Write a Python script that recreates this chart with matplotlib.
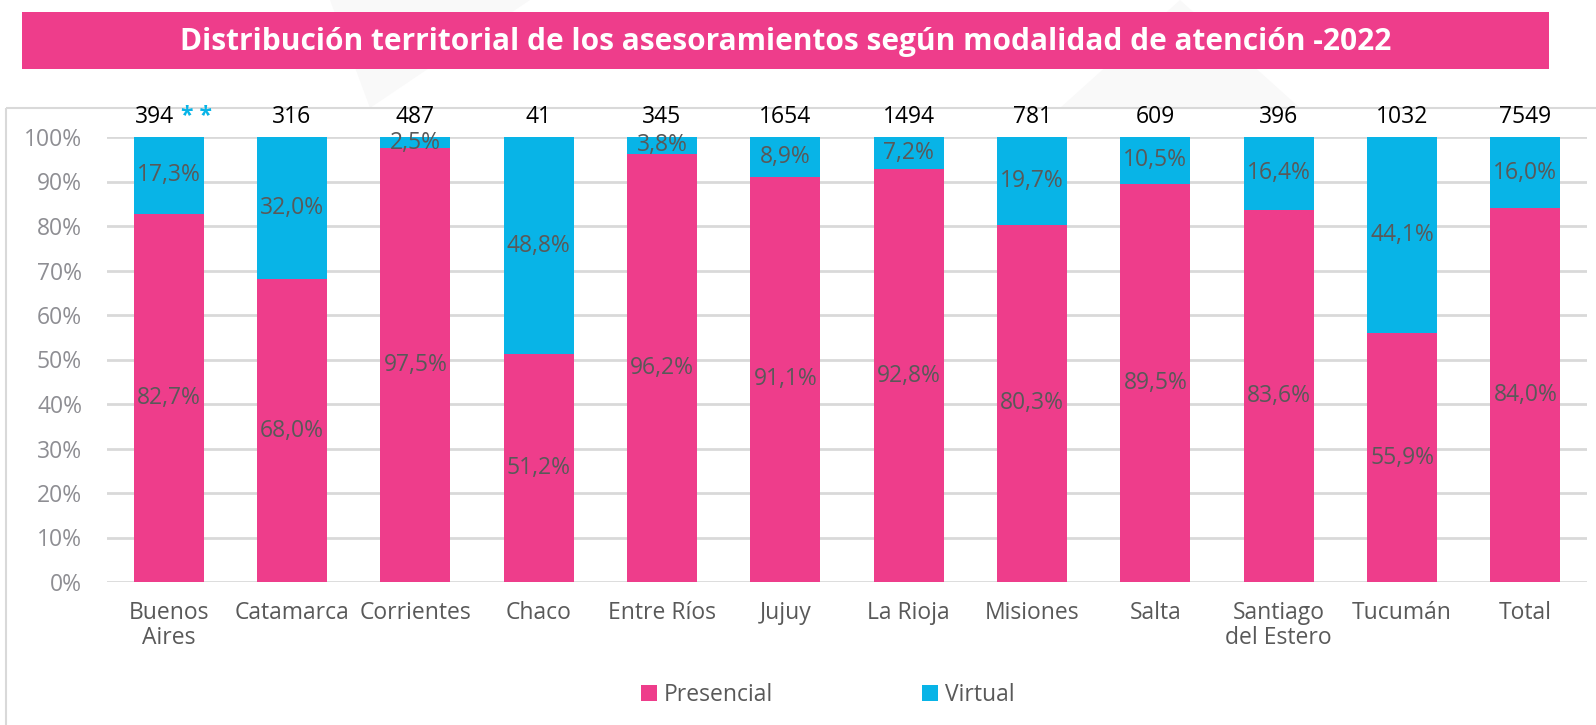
import matplotlib
matplotlib.use("Agg")
import matplotlib.pyplot as plt
from matplotlib.patches import Rectangle, Polygon
import numpy as np

categories = ["Buenos\nAires", "Catamarca", "Corrientes", "Chaco", "Entre Ríos", "Jujuy",
              "La Rioja", "Misiones", "Salta", "Santiago\ndel Estero", "Tucumán", "Total"]
presencial = [82.7, 68.0, 97.5, 51.2, 96.2, 91.1, 92.8, 80.3, 89.5, 83.6, 55.9, 84.0]
virtual = [17.3, 32.0, 2.5, 48.8, 3.8, 8.9, 7.2, 19.7, 10.5, 16.4, 44.1, 16.0]
totals = ["394", "316", "487", "41", "345", "1654", "1494", "781", "609", "396", "1032", "7549"]
yticks = [0, 10, 20, 30, 40, 50, 60, 70, 80, 90, 100]
title = "Distribución territorial de los asesoramientos según modalidad de atención -2022"

PINK = "#EE3D8B"
CYAN = "#08B4E7"
LABEL = "#595959"
FONT = ["Open Sans", "DejaVu Sans"]
FS = 16.5

W, H = 1596, 725
fig = plt.figure(figsize=(W / 100, H / 100), dpi=100)

def fx(px):
    return px / W

def fy(py):
    return 1 - py / H

# faint background watermark
bg = fig.add_axes([0, 0, 1, 1], zorder=-5)
bg.set_xlim(0, W); bg.set_ylim(H, 0); bg.axis("off")
bg.add_patch(Polygon([[330, 0], [530, 0], [370, 108]], closed=True, color="#F9F9F9", lw=0))
bg.add_patch(Polygon([[1060, 108], [1180, 0], [1300, 108]], closed=True, color="#F9F9F9", lw=0))
# chart border
bg.add_patch(Rectangle((6, 108), 1600, 700, fill=False, ec="#D9D9D9", lw=1.5))
# title banner
bg.add_patch(Rectangle((22, 12), 1527, 57, color=PINK, lw=0))
bg.text(786, 42, title, ha="center", va="center", color="white", fontsize=21.5,
        fontweight="bold", family=FONT)

# main axes: x from 107 to 1587 px, y from 137 (100%) to 582 (0%)
ax = fig.add_axes([fx(107), fy(582), fx(1587) - fx(107), (582 - 137) / H])
x = np.arange(len(categories))
ax.bar(x, presencial, width=0.57, color=PINK, zorder=3)
ax.bar(x, virtual, width=0.57, bottom=presencial, color=CYAN, zorder=3)
ax.set_xlim(-0.5, len(categories) - 0.5)
ax.set_ylim(0, 100)
ax.set_yticks(yticks)
ax.set_yticklabels([f"{v}%" for v in yticks], color="#8E8E93", fontsize=FS, family=FONT)
ax.yaxis.grid(True, color="#D9D9D9", lw=2, zorder=0)
ax.set_xticks(x)
ax.set_xticklabels(categories, color=LABEL, fontsize=FS, family=FONT, linespacing=1.05)
ax.tick_params(axis="both", length=0)
ax.tick_params(axis="x", pad=14)
ax.tick_params(axis="y", pad=18)
for s in ax.spines.values():
    s.set_visible(False)

for i in range(len(categories)):
    p, v = presencial[i], virtual[i]
    ax.text(i, p / 2, f"{p:.1f}%".replace(".", ","), ha="center", va="center",
            color=LABEL, fontsize=FS, family=FONT, zorder=4)
    ax.text(i, p + v / 2, f"{v:.1f}%".replace(".", ","), ha="center", va="center",
            color=LABEL, fontsize=FS, family=FONT, zorder=4)
    dx = -10.5 if i == 0 else 0
    t = ax.annotate(totals[i], xy=(i, 103.2), xytext=(dx, 0), textcoords="offset points",
                    ha="center", va="baseline", color="black", fontsize=FS, family=FONT,
                    annotation_clip=False)
    if i == 0:
        ax.annotate("* *", xy=(1, 0), xycoords=t, xytext=(5, 0), textcoords="offset points",
                    ha="left", va="bottom", color=CYAN, fontsize=FS, fontweight="bold",
                    family=FONT, annotation_clip=False)

# legend
leg = ax.legend(["Presencial", "Virtual"], loc="center", bbox_to_anchor=(fx(828), fy(695)),
                bbox_transform=fig.transFigure, ncol=2, frameon=False, fontsize=FS,
                handlelength=0.7, handleheight=0.7, handletextpad=0.3, columnspacing=6.5)
for t in leg.get_texts():
    t.set_color(LABEL)
    t.set_family(FONT)

fig.savefig("out.png", dpi=100)
